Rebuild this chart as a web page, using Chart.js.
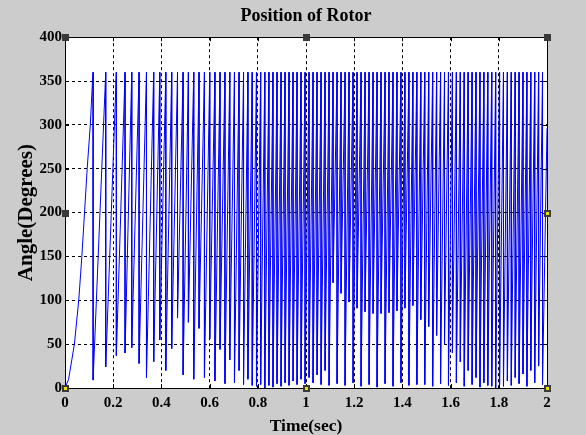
<!DOCTYPE html>
<html>
<head>
<meta charset="utf-8">
<title>Position of Rotor</title>
<script src="https://cdn.jsdelivr.net/npm/chart.js@4/dist/chart.umd.min.js"></script>
<style>
  html, body { margin: 0; padding: 0; background: #cccccc; }
</style>
</head>
<body>
<canvas id="rotorChart" width="586" height="435"></canvas>
<script>
// first turn of the rotor
const rampTimes  = [0, 0.015, 0.039, 0.057, 0.070, 0.081, 0.092, 0.105, 0.114, 0.1167];
const rampAngles = [0, 10, 50, 100, 150, 200, 250, 300, 350, 360];

// every later turn: time where the angle wraps from 360 and the angle it drops to
const wrapTimes = [
    0.1167, 0.169, 0.2131, 0.2492, 0.277, 0.3074, 0.3381, 0.368, 0.3933, 0.4183,
    0.4428, 0.4669, 0.4901, 0.5121, 0.5342, 0.5562, 0.5786, 0.6006, 0.6222, 0.6432,
    0.6637, 0.6837, 0.7032, 0.7222, 0.7408, 0.759, 0.7769, 0.7945, 0.8119, 0.8291,
    0.8461, 0.863, 0.8798, 0.8965, 0.9131, 0.9297, 0.9463, 0.9629, 0.9795, 0.9961,
    1.0127, 1.0293, 1.0459, 1.0625, 1.0791, 1.0957, 1.1123, 1.1289, 1.1455, 1.1621,
    1.1787, 1.1953, 1.2119, 1.2285, 1.2451, 1.2617, 1.2783, 1.2949, 1.3115, 1.328,
    1.3445, 1.361, 1.3775, 1.394, 1.4105, 1.427, 1.4435, 1.46, 1.4764, 1.4928,
    1.5092, 1.5256, 1.542, 1.5584, 1.5748, 1.5912, 1.6076, 1.624, 1.6403, 1.6566,
    1.6729, 1.6892, 1.7055, 1.7218, 1.7381, 1.7544, 1.7707, 1.787, 1.8032, 1.8194,
    1.8356, 1.8518, 1.868, 1.8842, 1.9004, 1.9166, 1.9328, 1.949, 1.9652, 1.9814
];
const wrapLows = [
    9, 24, 37, 40, 46, 28, 12, 30, 55, 20,
    45, 80, 15, 75, 10, 68, 12, 56, 8, 44,
    5, 32, 6, 20, 4, 10, 3, 2, 4, 0,
    3, 1, 5, 2, 6, 3, 8, 4, 10, 5,
    12, 6, 15, 4, 20, 3, 120, 5, 108, 3,
    98, 6, 91, 2, 87, 4, 85, 1, 85, 5,
    86, 2, 88, 6, 91, 3, 94, 4, 78, 4,
    70, 2, 60, 5, 50, 3, 40, 6, 30, 2,
    20, 4, 12, 1, 6, 3, 2, 0, 4, 2,
    8, 3, 12, 5, 16, 2, 20, 6, 25, 4
];
const topAngle = 360;
const endTime = 2.0;
const endAngle = 296;

const xTicks = [0, 0.2, 0.4, 0.6, 0.8, 1, 1.2, 1.4, 1.6, 1.8, 2];
const yTicks = [0, 50, 100, 150, 200, 250, 300, 350, 400];

// build the sawtooth polyline from the arrays above
const points = rampTimes.map((t, i) => ({ x: t, y: rampAngles[i] }));
wrapTimes.forEach((t, i) => {
    points.push({ x: t, y: wrapLows[i] });
    if (i + 1 < wrapTimes.length) {
        points.push({ x: wrapTimes[i + 1], y: topAngle });
    }
});
points.push({ x: endTime, y: endAngle });

const serif = '"Liberation Serif", "Times New Roman", serif';

// grey figure, white axes, black box with inward ticks and the edit handles
const frame = {
    id: 'frame',
    beforeDraw(chart) {
        const { ctx, chartArea: a } = chart;
        ctx.save();
        ctx.fillStyle = '#cccccc';
        ctx.fillRect(0, 0, chart.width, chart.height);
        ctx.fillStyle = '#ffffff';
        ctx.fillRect(a.left, a.top, a.right - a.left, a.bottom - a.top);
        ctx.restore();
    },
    afterDraw(chart) {
        const { ctx, chartArea: a, scales } = chart;
        ctx.save();
        ctx.strokeStyle = '#000';
        ctx.lineWidth = 1;
        ctx.beginPath();
        xTicks.forEach(v => {
            const px = Math.round(scales.x.getPixelForValue(v)) + 0.5;
            ctx.moveTo(px, a.bottom); ctx.lineTo(px, a.bottom - 4);
            ctx.moveTo(px, a.top); ctx.lineTo(px, a.top + 4);
        });
        yTicks.forEach(v => {
            const py = Math.round(scales.y.getPixelForValue(v)) + 0.5;
            ctx.moveTo(a.left, py); ctx.lineTo(a.left + 4, py);
            ctx.moveTo(a.right, py); ctx.lineTo(a.right - 4, py);
        });
        ctx.stroke();
        ctx.strokeRect(Math.round(a.left) + 0.5, Math.round(a.top) + 0.5,
            Math.round(a.right - a.left), Math.round(a.bottom - a.top));

        // selection handles; the yellow ones mark the selected line ends
        const midX = (a.left + a.right) / 2, midY = (a.top + a.bottom) / 2;
        const handles = [
            [a.left, a.top, false], [midX, a.top, false], [a.right, a.top, false],
            [a.left, midY, false], [a.right, midY, true],
            [a.left, a.bottom, true], [midX, a.bottom, true], [a.right, a.bottom, true]
        ];
        handles.forEach(([hx, hy, lit]) => {
            const x0 = Math.round(hx) - 3, y0 = Math.round(hy) - 3;
            ctx.fillStyle = '#3a3a3a';
            ctx.fillRect(x0, y0, 7, 7);
            if (lit) {
                ctx.fillStyle = '#f0e000';
                ctx.fillRect(x0 + 2, y0 + 2, 3, 3);
            }
        });
        ctx.restore();
    }
};

const tickFont = { family: serif, size: 15, weight: 'bold' };

new Chart(document.getElementById('rotorChart'), {
    type: 'line',
    data: {
        datasets: [{
            label: 'Rotor angle',
            data: points,
            borderColor: 'rgb(0,0,255)',
            borderWidth: 1,
            pointRadius: 0,
            fill: false,
            tension: 0
        }]
    },
    options: {
        responsive: false,
        animation: false,
        events: [],
        layout: { padding: { top: 0, right: 39, bottom: 0, left: 0 } },
        plugins: {
            legend: { display: false },
            tooltip: { enabled: false },
            title: {
                display: true,
                text: 'Position of Rotor',
                color: '#000',
                fullSize: false,
                font: { family: serif, size: 18, weight: 'bold', lineHeight: 1.2 },
                padding: { top: 6, bottom: 9.6 }
            }
        },
        scales: {
            x: {
                type: 'linear',
                min: 0,
                max: 2,
                z: 1,
                afterBuildTicks: s => { s.ticks = xTicks.map(v => ({ value: v })); },
                afterFit: s => { s.height = 47; },
                ticks: {
                    color: '#000',
                    font: tickFont,
                    padding: 6,
                    maxRotation: 0,
                    autoSkip: false,
                    callback: v => String(Number(v.toFixed(1)))
                },
                grid: { color: '#000', lineWidth: 1, drawTicks: false },
                border: { display: true, color: '#000', dash: [3, 3] },
                title: {
                    display: true,
                    text: 'Time(sec)',
                    color: '#000',
                    font: { family: serif, size: 17.5, weight: 'bold', lineHeight: 1 },
                    padding: { top: 0, bottom: 0 }
                }
            },
            y: {
                type: 'linear',
                min: 0,
                max: 400,
                z: 1,
                afterBuildTicks: s => { s.ticks = yTicks.map(v => ({ value: v })); },
                afterFit: s => { s.width = 65; },
                ticks: { color: '#000', font: tickFont, padding: 3 },
                grid: { color: '#000', lineWidth: 1, drawTicks: false },
                border: { display: true, color: '#000', dash: [3, 3] },
                title: {
                    display: true,
                    text: 'Angle(Degrees)',
                    color: '#000',
                    font: { family: serif, size: 21, weight: 'bold', lineHeight: 1 },
                    padding: { top: 16.5, bottom: 0 }
                }
            }
        }
    },
    plugins: [frame]
});
</script>
</body>
</html>
